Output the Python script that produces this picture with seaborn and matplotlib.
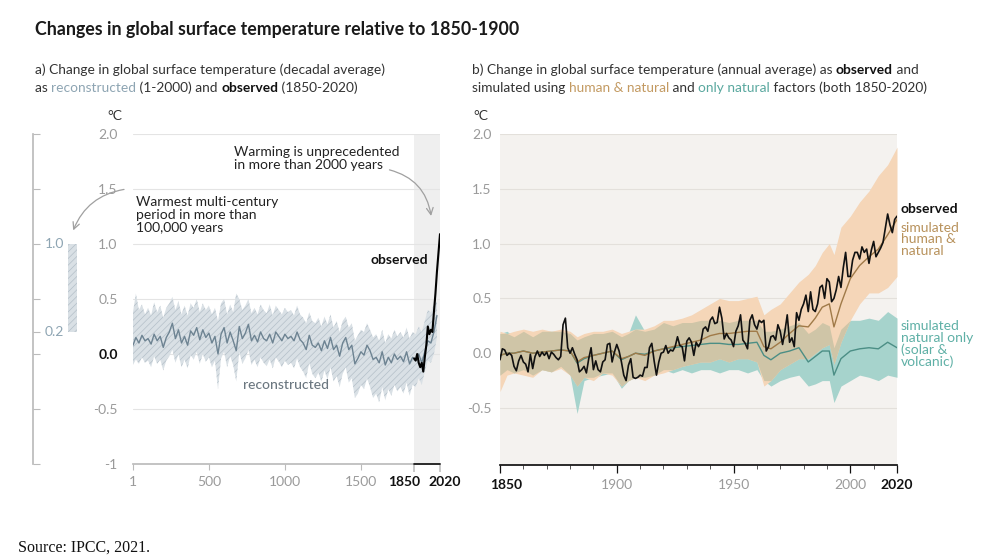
import numpy as np
import matplotlib
matplotlib.use("Agg")
import matplotlib.pyplot as plt
import matplotlib.transforms as mtransforms
import seaborn as sns

# ---- data -------------------------------------------------------------
# panel a: reconstructed decadal temperature (1-2000), read every 20 years
rec_years = [1] + list(range(20, 2001, 20))
rec_mid = [0.08, 0.15, 0.10, 0.17, 0.12, 0.14, 0.09, 0.18, 0.12, 0.16,
           0.06, 0.15, 0.20, 0.28, 0.14, 0.22, 0.10, 0.16, 0.08, 0.21,
           0.17, 0.24, 0.13, 0.22, 0.15, 0.19, 0.10, 0.16, 0.00, 0.18,
           0.24, 0.10, 0.20, 0.12, 0.03, 0.25, 0.14, 0.19, 0.27, 0.12,
           0.17, 0.11, 0.20, 0.14, 0.12, 0.18, 0.10, 0.20, 0.16, 0.12,
           0.18, 0.14, 0.16, 0.12, 0.20, 0.13, 0.10, 0.04, 0.17, 0.08,
           0.06, 0.10, 0.03, 0.12, 0.05, 0.15, 0.04, 0.08, -0.02, 0.10,
           0.15, 0.04, 0.08, -0.09, -0.04, 0.02, -0.01, 0.08, 0.03, -0.05,
           -0.03, -0.08, 0.02, -0.10, -0.03, -0.08, 0.00, -0.05, -0.02, -0.07,
           0.02, -0.09, -0.03, -0.06, 0.00, -0.08, 0.02, 0.12, 0.10, 0.20,
           0.35]
rec_hi = [0.38, 0.55, 0.40, 0.45, 0.36, 0.42, 0.35, 0.47, 0.38, 0.44,
          0.33, 0.42, 0.46, 0.52, 0.40, 0.48, 0.36, 0.44, 0.35, 0.46,
          0.42, 0.50, 0.38, 0.46, 0.40, 0.44, 0.36, 0.42, 0.30, 0.46,
          0.50, 0.36, 0.45, 0.38, 0.55, 0.50, 0.40, 0.44, 0.50, 0.37,
          0.42, 0.36, 0.45, 0.40, 0.37, 0.45, 0.35, 0.44, 0.40, 0.36,
          0.42, 0.38, 0.40, 0.35, 0.44, 0.36, 0.33, 0.28, 0.38, 0.30,
          0.28, 0.33, 0.25, 0.34, 0.27, 0.36, 0.24, 0.30, 0.20, 0.30,
          0.34, 0.24, 0.28, 0.12, 0.17, 0.22, 0.20, 0.28, 0.22, 0.15,
          0.18, 0.12, 0.22, 0.10, 0.18, 0.14, 0.22, 0.16, 0.20, 0.15,
          0.24, 0.14, 0.20, 0.18, 0.25, 0.20, 0.30, 0.40, 0.38, 0.45,
          0.48]
rec_lo = [-0.10, -0.05, -0.09, -0.03, -0.08, -0.06, -0.12, -0.02, -0.09, -0.05,
          -0.15, -0.06, -0.02, 0.04, -0.08, 0.00, -0.12, -0.05, -0.13, -0.01,
          -0.05, 0.02, -0.09, 0.00, -0.07, -0.03, -0.12, -0.06, -0.32, -0.04,
          0.02, -0.12, -0.02, -0.10, -0.25, 0.02, -0.09, -0.04, 0.04, -0.10,
          -0.05, -0.12, -0.03, -0.08, -0.11, -0.05, -0.13, -0.03, -0.07, -0.12,
          -0.06, -0.10, -0.08, -0.13, -0.04, -0.12, -0.16, -0.22, -0.08, -0.18,
          -0.22, -0.17, -0.25, -0.15, -0.23, -0.12, -0.25, -0.20, -0.30, -0.18,
          -0.12, -0.26, -0.22, -0.40, -0.36, -0.28, -0.32, -0.22, -0.30, -0.40,
          -0.36, -0.44, -0.30, -0.42, -0.32, -0.38, -0.28, -0.34, -0.30, -0.36,
          -0.26, -0.38, -0.28, -0.30, -0.22, -0.28, -0.16, -0.06, -0.08, 0.00,
          0.15]

# panel a: observed decadal (1850-2020)
obs_dec_years = [1850, 1860, 1870, 1880, 1890, 1900, 1910, 1920, 1930,
                 1940, 1950, 1960, 1970, 1980, 1990, 2000, 2010, 2020]
obs_dec = [-0.04, -0.06, 0.00, -0.08, -0.12, -0.08, -0.16, -0.03, 0.08,
           0.25, 0.18, 0.22, 0.20, 0.38, 0.55, 0.75, 0.92, 1.09]

# warmest multi-century period (range bar)
warm_range = [0.2, 1.0]

# panel b: observed annual (1850-2020)
obs_years = list(range(1850, 2021))
obs_ann = [-0.06, 0.04, 0.03, -0.02, 0.00, -0.02, -0.12, -0.16, -0.07, -0.02,
           -0.08, -0.10, -0.17, -0.01, -0.14, -0.03, 0.02, -0.03, 0.01, -0.02,
           0.01, -0.05, 0.01, -0.01, -0.04, -0.06, -0.03, 0.26, 0.32, 0.05,
           0.00, 0.05, -0.01, -0.06, -0.17, -0.15, -0.12, -0.18, -0.05, 0.05,
           -0.15, -0.07, -0.15, -0.17, -0.08, -0.06, 0.08, 0.09, -0.08, 0.01,
           0.08, 0.02, -0.08, -0.20, -0.25, -0.11, -0.05, -0.22, -0.23, -0.22,
           -0.20, -0.21, -0.13, -0.13, 0.05, 0.09, -0.07, -0.20, -0.08, 0.00,
           0.01, 0.07, 0.00, 0.03, 0.02, 0.06, 0.15, 0.07, 0.06, -0.07,
           0.11, 0.14, 0.10, -0.02, 0.10, 0.06, 0.10, 0.22, 0.24, 0.20,
           0.30, 0.33, 0.27, 0.28, 0.42, 0.32, 0.13, 0.18, 0.14, 0.12,
           0.06, 0.20, 0.25, 0.35, 0.12, 0.09, 0.04, 0.30, 0.35, 0.26,
           0.22, 0.30, 0.28, 0.30, 0.02, 0.06, 0.15, 0.16, 0.12, 0.26,
           0.20, 0.08, 0.20, 0.35, 0.10, 0.14, 0.06, 0.37, 0.30, 0.40,
           0.45, 0.53, 0.38, 0.56, 0.40, 0.38, 0.45, 0.60, 0.62, 0.50,
           0.68, 0.65, 0.47, 0.50, 0.58, 0.70, 0.60, 0.78, 0.92, 0.70,
           0.70, 0.85, 0.92, 0.92, 0.86, 0.97, 0.92, 0.95, 0.82, 0.94,
           1.02, 0.88, 0.92, 0.96, 1.01, 1.14, 1.27, 1.17, 1.10, 1.22,
           1.25]

# panel b: simulations (median and range)
sim_years = [1850, 1853, 1856, 1860, 1864, 1868, 1872, 1876, 1880, 1883,
             1886, 1890, 1894, 1898, 1902, 1905, 1908, 1912, 1916, 1920,
             1924, 1928, 1932, 1936, 1940, 1944, 1948, 1952, 1956, 1960,
             1963, 1966, 1970, 1974, 1978, 1982, 1985, 1988, 1991, 1993,
             1996, 2000, 2004, 2008, 2012, 2016, 2020]
hn_mid = [-0.02, 0.00, 0.00, 0.02, 0.00, 0.01, 0.02, 0.03, 0.02, -0.08,
          -0.04, -0.02, 0.00, 0.02, -0.05, -0.03, 0.00, -0.02, 0.02, 0.04,
          0.06, 0.08, 0.10, 0.12, 0.16, 0.18, 0.18, 0.19, 0.20, 0.20,
          0.06, 0.04, 0.10, 0.18, 0.25, 0.24, 0.32, 0.42, 0.45, 0.24,
          0.45, 0.68, 0.80, 0.88, 0.95, 1.08, 1.22]
hn_lo = [-0.35, -0.20, -0.18, -0.20, -0.22, -0.15, -0.17, -0.14, -0.20, -0.30,
         -0.22, -0.25, -0.18, -0.20, -0.30, -0.25, -0.22, -0.25, -0.20, -0.18,
         -0.15, -0.12, -0.10, -0.08, -0.08, -0.05, -0.08, -0.05, -0.05, -0.08,
         -0.30, -0.25, -0.15, -0.10, -0.05, -0.05, 0.00, 0.05, 0.08, -0.10,
         0.10, 0.30, 0.45, 0.55, 0.55, 0.60, 0.70]
hn_hi = [0.20, 0.18, 0.20, 0.22, 0.20, 0.22, 0.20, 0.22, 0.20, 0.15,
         0.18, 0.20, 0.20, 0.22, 0.18, 0.20, 0.22, 0.22, 0.25, 0.30,
         0.30, 0.32, 0.35, 0.40, 0.45, 0.50, 0.48, 0.48, 0.50, 0.52,
         0.35, 0.40, 0.45, 0.55, 0.65, 0.72, 0.80, 0.92, 1.00, 0.90,
         1.15, 1.25, 1.38, 1.48, 1.62, 1.72, 1.88]
nat_mid = [-0.02, 0.00, 0.00, 0.02, 0.00, 0.01, 0.02, 0.03, 0.02, -0.09,
           -0.05, -0.02, 0.00, 0.02, -0.06, -0.03, 0.00, -0.01, 0.02, 0.04,
           0.05, 0.06, 0.07, 0.08, 0.09, 0.09, 0.08, 0.08, 0.09, 0.10,
           -0.02, -0.06, 0.00, 0.02, 0.05, -0.08, -0.03, 0.02, 0.02, -0.20,
           -0.05, 0.02, 0.04, 0.05, 0.04, 0.10, 0.05]
nat_lo = [-0.20, -0.15, -0.18, -0.15, -0.20, -0.15, -0.17, -0.12, -0.20, -0.55,
          -0.25, -0.22, -0.20, -0.18, -0.32, -0.25, -0.22, -0.22, -0.20, -0.15,
          -0.18, -0.15, -0.18, -0.15, -0.15, -0.18, -0.15, -0.15, -0.18, -0.15,
          -0.25, -0.30, -0.25, -0.22, -0.20, -0.30, -0.28, -0.25, -0.25, -0.45,
          -0.30, -0.25, -0.20, -0.22, -0.25, -0.20, -0.22]
nat_hi = [0.18, 0.20, 0.15, 0.20, 0.15, 0.20, 0.20, 0.20, 0.18, 0.12,
          0.15, 0.18, 0.18, 0.20, 0.15, 0.18, 0.35, 0.20, 0.22, 0.28,
          0.25, 0.28, 0.28, 0.30, 0.30, 0.30, 0.28, 0.30, 0.30, 0.30,
          0.20, 0.20, 0.22, 0.25, 0.28, 0.18, 0.22, 0.28, 0.25, 0.05,
          0.22, 0.30, 0.30, 0.32, 0.30, 0.38, 0.32]

yticks = [-1, -0.5, 0, 0.5, 1, 1.5, 2]
ytick_labels = ["-1", "-0.5", "0.0", "0.5", "1.0", "1.5", "2.0"]

# ---- style ------------------------------------------------------------
sns.set_theme(style="white")
plt.rcParams["font.family"] = ["Lato", "DejaVu Sans"]
plt.rcParams["hatch.linewidth"] = 0.5

GREY = "#9a9a9a"
REC_FILL = "#d9e0e5"
REC_HATCH = "#b3bfc8"
REC_LINE = "#6d8392"
PEACH = "#f5d6b8"
TEAL = "#a6d3cc"
OVER = "#cfc5a7"

W, H = 981, 560
fig = plt.figure(figsize=(W / 100, H / 100), dpi=100)
fig.patch.set_facecolor("white")


def fx(px):
    return px / W


def fy(py):
    return 1 - py / H


def text_width(s, size, weight):
    r = fig.canvas.get_renderer()
    t = fig.text(0, 0, s + "|", fontsize=size, fontweight=weight)
    w = t.get_window_extent(r).width
    t.remove()
    t = fig.text(0, 0, "|", fontsize=size, fontweight=weight)
    w -= t.get_window_extent(r).width
    t.remove()
    return w


def rich_line(px, py, parts, size):
    x = px
    for s, color, weight in parts:
        fig.text(fx(x), fy(py), s, fontsize=size, color=color,
                 fontweight=weight, va="center", ha="left")
        x += text_width(s, size, weight)


def shift_label(lab, dx):
    lab.set_transform(lab.get_transform() +
                      mtransforms.ScaledTranslation(dx / 100, 0, fig.dpi_scale_trans))


# ---- titles -----------------------------------------------------------
fig.text(fx(35), fy(30), "Changes in global surface temperature relative to 1850-1900",
         fontsize=12.8, fontweight="bold", color="#1a1a1a", va="center")

DK = "#333333"
sub = 9.9
rich_line(35, 70, [("a) Change in global surface temperature (decadal average)", DK, "normal")], sub)
rich_line(35, 88, [("as ", DK, "normal"), ("reconstructed", "#8ea5b3", "normal"),
                   (" (1-2000) and ", DK, "normal"), ("observed", "#111111", "bold"),
                   (" (1850-2020)", DK, "normal")], sub)
rich_line(472, 70, [("b) Change in global surface temperature (annual average) as ", DK, "normal"),
                    ("observed", "#111111", "bold"), (" and", DK, "normal")], sub)
rich_line(472, 88, [("simulated using ", DK, "normal"), ("human & natural", "#c39a62", "normal"),
                    (" and ", DK, "normal"), ("only natural", "#5aa89f", "normal"),
                    (" factors (both 1850-2020)", DK, "normal")], sub)

fig.text(fx(18), fy(548), "Source: IPCC, 2021.", fontsize=11.5,
         family=["Liberation Serif", "DejaVu Serif"], color="#111111", va="center")

# ---- panel a ----------------------------------------------------------
ax_a = fig.add_axes([fx(133), fy(464), fx(440) - fx(133), fy(134) - fy(464)])
ax_a.set_xlim(1, 2020)
ax_a.set_ylim(-1, 2)
ax_a.axvspan(1850, 2020, color="#efefef", lw=0, zorder=0)
for v in yticks[1:]:
    ax_a.axhline(v, color="#e4e4e4", lw=0.8, zorder=0.5)

ax_a.fill_between(rec_years, rec_lo, rec_hi, facecolor=REC_FILL,
                  edgecolor=REC_HATCH, hatch="/////", lw=0, zorder=1)
sns.lineplot(x=rec_years, y=rec_mid, ax=ax_a, color=REC_LINE, lw=1.0, zorder=2)
sns.lineplot(x=obs_dec_years, y=obs_dec, ax=ax_a, color="black", lw=1.5, zorder=3)

for s in ["top", "right", "left"]:
    ax_a.spines[s].set_visible(False)
ax_a.spines["bottom"].set_color("#bbbbbb")
ax_a.set_yticks(yticks)
ax_a.set_yticklabels(ytick_labels)
ax_a.tick_params(axis="y", left=False, length=0, pad=11, labelsize=10, labelcolor=GREY)
for lab in ax_a.get_yticklabels():
    if lab.get_text() == "0.0":
        lab.set_color("#111111")
        lab.set_fontweight("bold")
ax_a.set_xticks([1, 500, 1000, 1500, 1850, 2020])
ax_a.set_xticklabels(["1", "500", "1000", "1500", "1850", "2020"])
ax_a.tick_params(axis="x", bottom=True, length=4, width=0.8, color="#bbbbbb", pad=5,
                 labelsize=10, labelcolor=GREY)
for t, lab in zip(ax_a.xaxis.get_major_ticks(), ax_a.get_xticklabels()):
    if lab.get_text() in ("1850", "2020"):
        lab.set_color("#111111")
        lab.set_fontweight("bold")
        t.tick1line.set_color("#111111")
        t.tick1line.set_markersize(6)
        t.tick1line.set_markeredgewidth(1.1)
    if lab.get_text() == "1850":
        shift_label(lab, -10)
    if lab.get_text() == "2020":
        shift_label(lab, 5)
ax_a.plot([1850, 2020], [-1, -1], color="#111111", lw=1.2, clip_on=False, zorder=5)
ax_a.set_xlabel("")
ax_a.set_ylabel("")
fig.text(fx(107), fy(116), "°C", fontsize=10, color=DK, va="center")

ax_a.text(1944, 0.85, "observed", fontsize=10, fontweight="bold",
          color="#111111", ha="right", va="center")
ax_a.text(1005, -0.28, "reconstructed", fontsize=10, fontweight="medium",
          color="#6b7780", ha="center", va="center")
ax_a.text(662, 1.89, "Warming is unprecedented\nin more than 2000 years",
          fontsize=10, color="#222222", ha="left", va="top", linespacing=1.12)
ax_a.text(21, 1.44, "Warmest multi-century\nperiod in more than\n100,000 years",
          fontsize=10, color="#222222", ha="left", va="top", linespacing=1.12)
ax_a.annotate("", xy=(1964, 1.23), xytext=(1670, 1.68),
              arrowprops=dict(arrowstyle="->", color="#a0a0a0", lw=0.9,
                              connectionstyle="arc3,rad=-0.35"))

# ---- range bar --------------------------------------------------------
ax_r = fig.add_axes([fx(33), fy(464), fx(82) - fx(33), fy(134) - fy(464)])
ax_r.set_xlim(0, 1)
ax_r.set_ylim(-1, 2)
ax_r.fill_between([0.71, 0.90], [warm_range[0]] * 2, [warm_range[1]] * 2,
                  facecolor=REC_FILL, edgecolor=REC_HATCH, hatch="/////", lw=0)
ax_r.set_facecolor("none")
for s in ["top", "right", "bottom"]:
    ax_r.spines[s].set_visible(False)
ax_r.spines["left"].set_color("#bbbbbb")
ax_r.set_xticks([])
ax_r.set_yticks([-1, -0.5, 0, 0.2, 0.5, 1, 1.5, 2])
ax_r.set_yticklabels([])
ax_r.tick_params(axis="y", left=True, direction="in", length=5, color="#bbbbbb", width=0.8)
for v in warm_range:
    ax_r.text(0.24, v, f"{v:.1f}", fontsize=10, color="#8ea5b3", va="center")
ax_a.annotate("", xy=(0.8, 1.1), xycoords=ax_r.transData,
              xytext=(-40, 1.5), textcoords=ax_a.transData,
              arrowprops=dict(arrowstyle="->", color="#a0a0a0", lw=0.9,
                              connectionstyle="arc3,rad=0.3"),
              annotation_clip=False)

# ---- panel b ----------------------------------------------------------
ax_b = fig.add_axes([fx(500), fy(465), fx(897) - fx(500), fy(134) - fy(465)])
ax_b.set_facecolor("#f4f2ef")
ax_b.set_xlim(1850, 2020)
ax_b.set_ylim(-1.02, 2)
for v in yticks[1:]:
    ax_b.axhline(v, color="#e3e0db", lw=0.8, zorder=0.5)

nlo, nhi = np.array(nat_lo), np.array(nat_hi)
hlo, hhi = np.array(hn_lo), np.array(hn_hi)
ax_b.fill_between(sim_years, nlo, nhi, color=TEAL, lw=0, zorder=1)
ax_b.fill_between(sim_years, hlo, hhi, color=PEACH, lw=0, zorder=1.1)
olo, ohi = np.maximum(nlo, hlo), np.minimum(nhi, hhi)
ax_b.fill_between(sim_years, olo, ohi, where=olo < ohi, interpolate=True,
                  color=OVER, lw=0, zorder=1.2)
sns.lineplot(x=sim_years, y=nat_mid, ax=ax_b, color="#4b8e85", lw=1.0, zorder=2)
sns.lineplot(x=sim_years, y=hn_mid, ax=ax_b, color="#a07a48", lw=1.0, zorder=2)
sns.lineplot(x=obs_years, y=obs_ann, ax=ax_b, color="#111111", lw=1.2, zorder=3)

for s in ["top", "right", "left"]:
    ax_b.spines[s].set_visible(False)
ax_b.spines["bottom"].set_color("#111111")
ax_b.set_yticks(yticks[1:])
ax_b.set_yticklabels(ytick_labels[1:])
ax_b.tick_params(axis="y", left=False, length=0, pad=6, labelsize=10, labelcolor=GREY)
ax_b.set_xticks([1850, 1900, 1950, 2000, 2020])
ax_b.set_xticklabels(["1850", "1900", "1950", "2000", "2020"])
ax_b.set_xticks(range(1860, 2020, 10), minor=True)
ax_b.tick_params(axis="x", which="major", bottom=True, length=6, width=0.9,
                 color="#111111", pad=4, labelsize=10, labelcolor=GREY)
ax_b.tick_params(axis="x", which="minor", bottom=True, length=3, width=0.7,
                 color="#555555")
for lab in ax_b.get_xticklabels():
    if lab.get_text() in ("1850", "2020"):
        lab.set_color("#111111")
        lab.set_fontweight("bold")
    if lab.get_text() == "1850":
        shift_label(lab, 6)
ax_b.set_xlabel("")
ax_b.set_ylabel("")
fig.text(fx(473), fy(116), "°C", fontsize=10, color=DK, va="center")

ax_b.text(2021.5, 1.32, "observed", fontsize=10, fontweight="bold",
          color="#111111", ha="left", va="center", clip_on=False)
ax_b.text(2021.5, 1.20, "simulated\nhuman &\nnatural", fontsize=10,
          color="#b8925c", ha="left", va="top", linespacing=0.95, clip_on=False)
ax_b.text(2021.5, 0.30, "simulated\nnatural only\n(solar &\nvolcanic)", fontsize=10,
          color="#5fb0a6", ha="left", va="top", linespacing=0.95, clip_on=False)

fig.savefig("out.png", dpi=100)
